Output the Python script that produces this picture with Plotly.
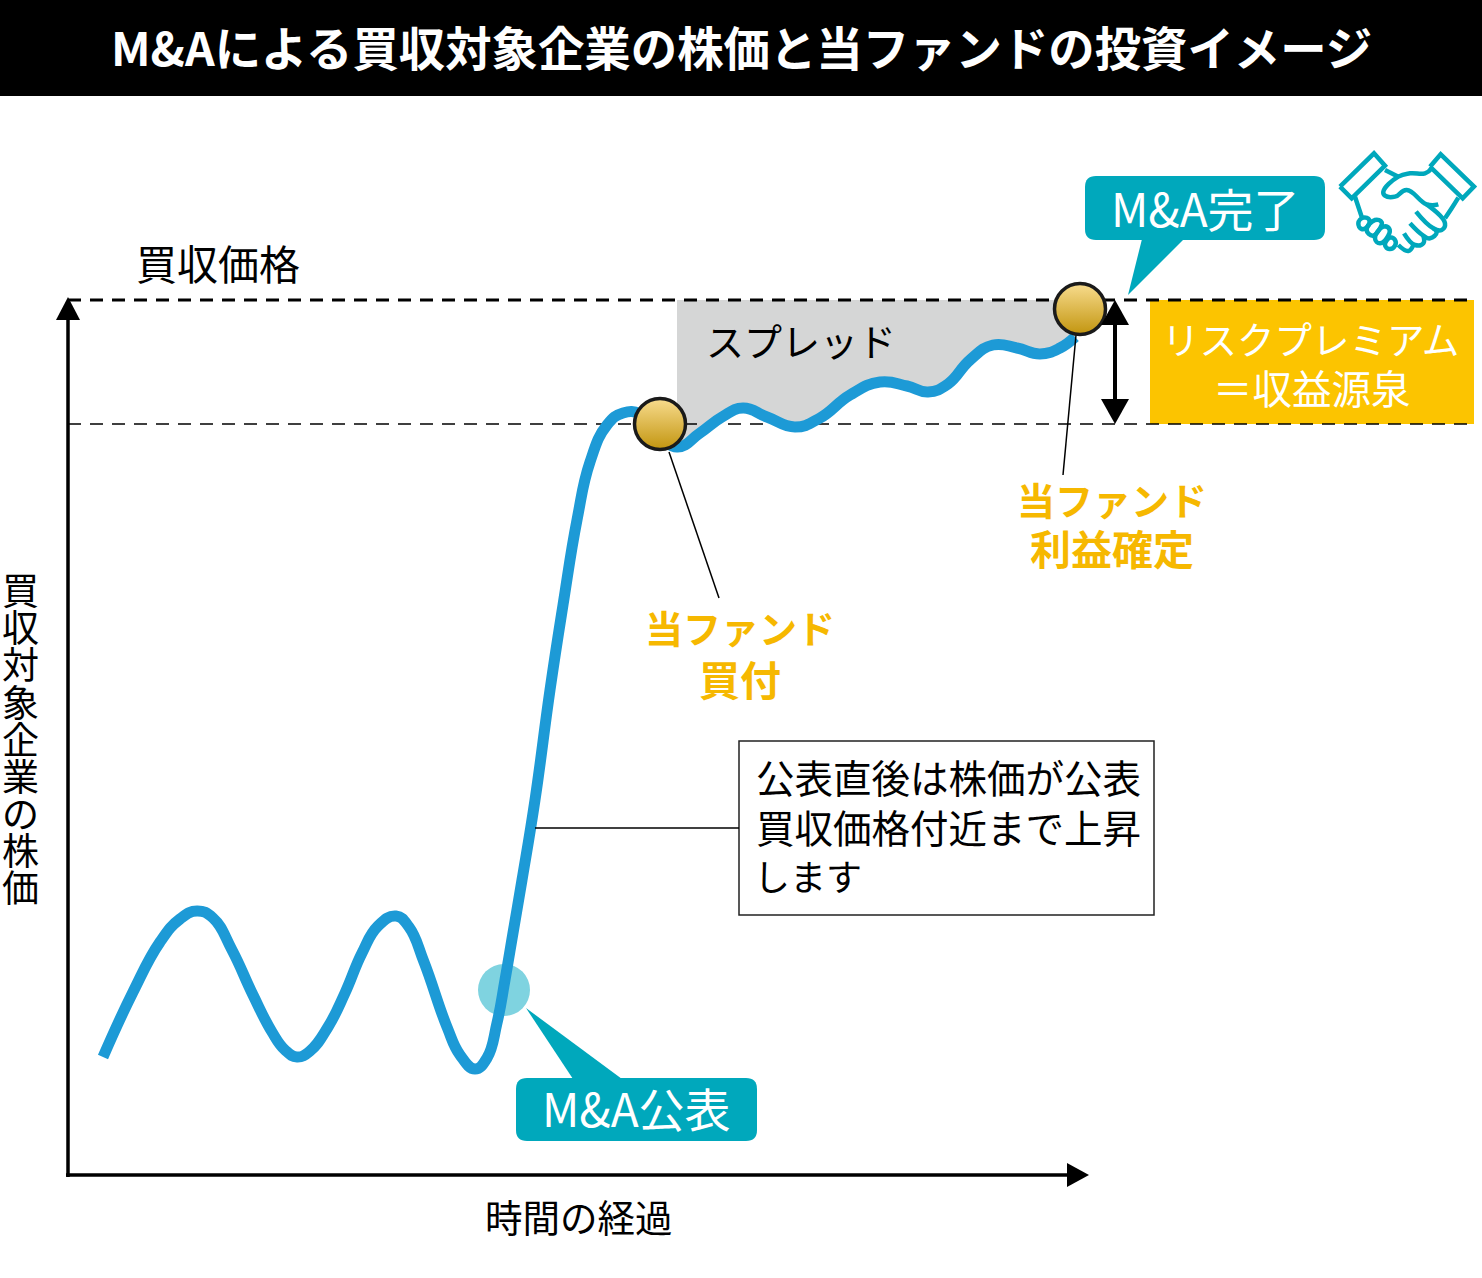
import plotly.graph_objects as go

FONT = 'Noto Sans CJK JP'
BLUE = '#1d9ad6'
TEAL = '#00a8bc'
AMBER = '#f6b800'

# curve, first section before the purchase point
time_before = [103, 133, 160, 180, 197, 213, 232, 253, 272, 285, 297, 310, 328, 345, 362, 378, 396, 409, 424, 447,
               460, 475, 487, 497, 505, 513, 522, 535, 550, 563, 577, 590, 607, 623, 640, 655]
price_before = [1057, 992, 942, 919, 911, 918, 950, 995, 1032, 1050, 1057, 1051, 1027, 993, 953, 926, 916, 927, 962, 1027,
                1055, 1069, 1058, 1023, 980, 933, 880, 800, 690, 605, 520, 462, 425, 413, 414, 430]
time_after = [677, 700, 722, 743, 767, 795, 820, 850, 880, 907, 928, 948, 970, 993, 1017, 1040, 1060, 1075]
price_after = [447, 433, 417, 408, 417, 427, 418, 395, 382, 386, 392, 384, 360, 345, 348, 354, 348, 337]

buy_time, buy_price = 660, 424
sell_time, sell_price = 1080, 309
announce_time, announce_price = 504, 990
offer_price = 300
spread_floor = 424

ylabel_chars = list('買収対象企業の株価')
title = 'M&Aによる買収対象企業の株価と当ファンドの投資イメージ'

handshake = [
    [(30, 125), (132, 25), (165, 62), (65, 160), (30, 125)],
    [(300, 65), (332, 28), (432, 125), (398, 160), (300, 65)],
    [(165, 75), (205, 95)],
    [(75, 155), (85, 185), (95, 215)],
    [(305, 70), (285, 85), (240, 85), (205, 95), (160, 140), (165, 152), (195, 155), (230, 135), (290, 178), (325, 178)],
    [(385, 158), (365, 190), (345, 220)],
    [(290, 178), (345, 235), (335, 255), (310, 250), (258, 200)],
    [(310, 250), (320, 262), (300, 280), (280, 272), (240, 235)],
    [(280, 272), (280, 295), (255, 300), (222, 265)],
    [(250, 300), (235, 318), (205, 300)],
    [(85, 235), (100, 218), (118, 225), (112, 245), (95, 252), (85, 235)],
    [(110, 255), (135, 225), (155, 232), (150, 250), (128, 272), (110, 255)],
    [(135, 280), (160, 245), (178, 252), (175, 272), (150, 295), (135, 280)],
    [(165, 300), (180, 278), (195, 285), (195, 302), (178, 312), (165, 300)],
]


def round_rect(x0, y0, x1, y1, r):
    return (f'M{x0+r},{y0} L{x1-r},{y0} Q{x1},{y0} {x1},{y0+r} L{x1},{y1-r} Q{x1},{y1} {x1-r},{y1} '
            f'L{x0+r},{y1} Q{x0},{y1} {x0},{y1-r} L{x0},{y0+r} Q{x0},{y0} {x0+r},{y0} Z')


def triangle(a, b, c):
    return f'M{a[0]},{a[1]} L{b[0]},{b[1]} L{c[0]},{c[1]} Z'


def shape_path(path, color):
    return dict(type='path', path=path, fillcolor=color, line=dict(width=0), layer='above')


def line_trace(x, y, color='black', width=1.5, dash=None, spline=False):
    line = dict(color=color, width=width, dash=dash, shape='spline' if spline else 'linear')
    if spline:
        line['smoothing'] = 1.3
    return go.Scatter(x=x, y=y, mode='lines', hoverinfo='skip', showlegend=False, line=line)


fig = go.Figure()

# spread area, between the offer price and the curve
fig.add_trace(go.Scatter(x=time_after, y=[offer_price] * len(time_after), mode='lines', hoverinfo='skip',
                         showlegend=False, line=dict(width=0)))
fig.add_trace(go.Scatter(x=time_after, y=price_after, mode='lines', hoverinfo='skip', showlegend=False,
                         fill='tonexty', fillcolor='#d5d6d6', line=dict(width=0, shape='spline', smoothing=1.3)))

fig.add_trace(line_trace([68, 1474], [offer_price, offer_price], width=3, dash='13px,9px'))
fig.add_trace(line_trace([68, 1474], [spread_floor, spread_floor], width=1.5, dash='13px,9px'))

fig.add_trace(line_trace(time_before + time_after, price_before + price_after, color=BLUE, width=11, spline=True))

fig.add_trace(line_trace([669, 719], [452, 598]))
fig.add_trace(line_trace([1076, 1063], [335, 475]))
fig.add_trace(line_trace([535, 739], [828, 828]))

fig.add_trace(go.Scatter(x=[buy_time, sell_time], y=[buy_price, sell_price], mode='markers', hoverinfo='skip',
                         showlegend=False,
                         marker=dict(size=51, color='#f8dc8e', line=dict(color='#1a1a1a', width=3.5),
                                     gradient=dict(type='vertical', color='#c2950f'))))

for stroke in handshake:
    fig.add_trace(line_trace([1330 + p[0] / 3 for p in stroke], [145 + p[1] / 3 for p in stroke],
                             color=TEAL, width=4.5, spline=len(stroke) > 2 and stroke[0] != (30, 125) and stroke[0] != (300, 65)))

shapes = [
    dict(type='rect', x0=0, x1=1482, y0=0, y1=96, fillcolor='black', line=dict(width=0), layer='below'),
    dict(type='rect', x0=1150, x1=1474, y0=300, y1=424, fillcolor='#fcc400', line=dict(width=0), layer='below'),
    dict(type='circle', x0=announce_time - 26, x1=announce_time + 26, y0=announce_price - 26, y1=announce_price + 26,
         fillcolor='#7fd3e0', line=dict(width=0), layer='below'),
    dict(type='rect', x0=739, x1=1154, y0=741, y1=915, fillcolor='white', line=dict(color='#222222', width=1.5),
         layer='below'),
    dict(type='line', x0=68, x1=68, y0=1177, y1=310, line=dict(color='black', width=3.5), layer='above'),
    dict(type='line', x0=66, x1=1075, y0=1175, y1=1175, line=dict(color='black', width=3.5), layer='above'),
    shape_path(triangle((68, 297), (56, 320), (80, 320)), 'black'),
    shape_path(triangle((1089, 1175), (1067, 1163), (1067, 1187)), 'black'),
    dict(type='line', x0=1115, x1=1115, y0=320, y1=405, line=dict(color='black', width=4), layer='above'),
    shape_path(triangle((1115, 300), (1101, 325), (1129, 325)), 'black'),
    shape_path(triangle((1115, 424), (1101, 399), (1129, 399)), 'black'),
    shape_path(round_rect(1085, 176, 1325, 240, 11), TEAL),
    shape_path(triangle((1142, 239), (1184, 239), (1128, 295)), TEAL),
    shape_path(round_rect(516, 1078, 757, 1141, 11), TEAL),
    shape_path(triangle((573, 1079), (622, 1079), (526, 1008)), TEAL),
]

texts = [
    (741, 45, title, 46.4, 'white', True),
    (218, 262, '買収価格', 41, 'black', False),
    (801, 339, 'スプレッド', 38, 'black', False),
    (1205, 207, 'M&A完了', 46, 'white', False),
    (636, 1107, 'M&A公表', 46, 'white', False),
    (1310, 337, 'リスクプレミアム', 37.5, 'white', False),
    (1312, 386, '＝収益源泉', 39.5, 'white', False),
    (740, 626, '当ファンド', 38, AMBER, True),
    (740, 678, '買付', 41, AMBER, True),
    (1112, 498, '当ファンド', 38, AMBER, True),
    (1112, 547, '利益確定', 41, AMBER, True),
    (948, 776, '公表直後は株価が公表', 38.5, 'black', False),
    (948, 826, '買収価格付近まで上昇', 38.5, 'black', False),
    (808, 875, 'します', 36, 'black', False),
    (579, 1215, '時間の経過', 37.5, 'black', False),
]

annotations = [dict(x=x, y=y, text=f'<b>{t}</b>' if bold else t, showarrow=False, xanchor='center', yanchor='middle',
                    font=dict(family=FONT, size=size, color=color))
               for x, y, t, size, color, bold in texts]

# stacked upright characters, line pitch comes from the smaller base font size
annotations.append(dict(x=20, y=737, showarrow=False, xanchor='center', yanchor='middle',
                        text='<br>'.join(f'<span style="font-size:37px">{c}</span>' for c in ylabel_chars),
                        font=dict(family=FONT, size=28.6, color='black')))

fig.update_layout(width=1482, height=1278, margin=dict(l=0, r=0, t=0, b=0), paper_bgcolor='white',
                  plot_bgcolor='white', showlegend=False, shapes=shapes, annotations=annotations,
                  xaxis=dict(range=[0, 1482], visible=False, fixedrange=True),
                  yaxis=dict(range=[1278, 0], visible=False, fixedrange=True))

fig.write_html('out.html', config=dict(displayModeBar=False),
               post_script="document.body.style.margin='0';document.body.style.overflow='hidden';")
